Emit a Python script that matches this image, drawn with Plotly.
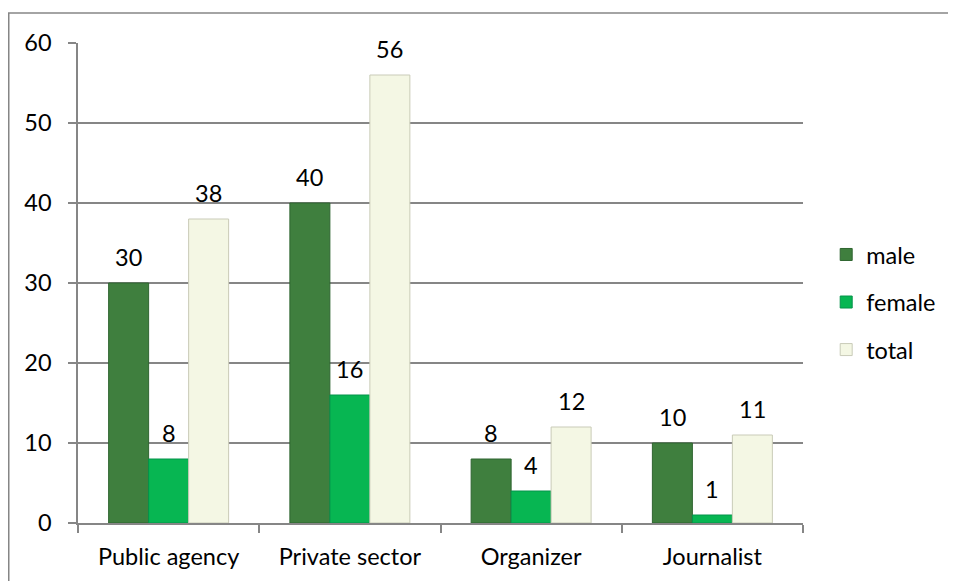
import plotly.graph_objects as go

categories = ["Public agency", "Private sector", "Organizer", "Journalist"]
male = [30, 40, 8, 10]
female = [8, 16, 4, 1]
total = [38, 56, 12, 11]
series_names = ["male", "female", "total"]
y_ticks = [0, 10, 20, 30, 40, 50, 60]

colors = ["#3F7F3E", "#07B652", "#F4F7E4"]
edges = ["#2F6530", "#05934A", "#C9CBB8"]
FONT = "Lato"
FS = 23.5

fig = go.Figure()
for i, (name, vals) in enumerate(zip(series_names, [male, female, total])):
    fig.add_trace(go.Bar(
        name=name, x=categories, y=vals,
        marker=dict(color=colors[i], line=dict(color=edges[i], width=1)),
        legendgroup=name,
    ))
    for c, v in zip(categories, vals):
        fig.add_annotation(x=c, y=v, text=str(v), showarrow=False,
                           xref="x", yref="y", xshift=(i - 1) * 40, yshift=26,
                           font=dict(family=FONT, size=FS, color="#000000"))

fig.add_shape(type="rect", xref="paper", yref="paper",
              x0=-0.0955, x1=2, y0=-1, y1=1.0625,
              line=dict(color="#868686", width=1.5), fillcolor="rgba(0,0,0,0)")

fig.update_layout(
    width=948, height=573,
    margin=dict(l=70, r=153, t=35, b=58),
    paper_bgcolor="white", plot_bgcolor="white",
    barmode="group", bargap=0.338, bargroupgap=0,
    font=dict(family=FONT, size=FS, color="#000000"),
    showlegend=True,
    legend=dict(x=1.032, y=0.46, xanchor="left", yanchor="middle",
                font=dict(family=FONT, size=FS), tracegroupgap=14,
                bgcolor="rgba(0,0,0,0)"),
    xaxis=dict(showline=True, linecolor="#868686", linewidth=1.5,
               ticks="outside", ticklen=8, tickcolor="#868686", tickwidth=1.5,
               tickson="boundaries", showgrid=False, ticklabelstandoff=12),
    yaxis=dict(range=[0, 60], tickvals=y_ticks, showline=True, linecolor="#868686",
               linewidth=1.5, ticks="outside", ticklen=8, tickcolor="#868686",
               tickwidth=1.5, showgrid=True, gridcolor="#868686", gridwidth=1.5,
               zeroline=False, ticklabelstandoff=12),
)

fig.write_html("out.html")
